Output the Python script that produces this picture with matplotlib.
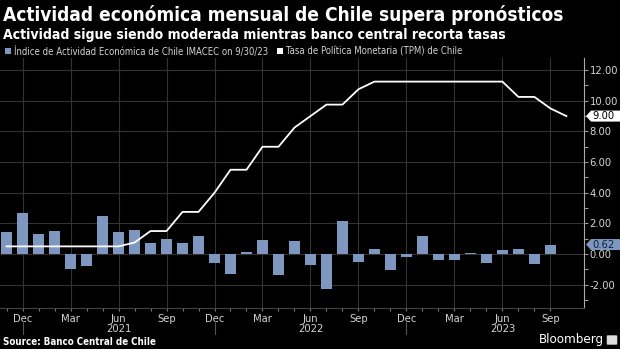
import matplotlib
matplotlib.use('Agg')
import matplotlib.pyplot as plt
from matplotlib.patches import Rectangle, Polygon, FancyBboxPatch
import numpy as np
import pandas as pd

# IMACEC mensual (var. % m/m), nov 2020 - sep 2023
months = pd.period_range('2020-11', '2023-09', freq='M')
imacec = [1.42, 2.69, 1.29, 1.49, -0.96, -0.78, 2.49, 1.42, 1.56, 0.71,
          0.98, 0.73, 1.16, -0.60, -1.27, 0.13, 0.93, -1.36, 0.87, -0.71,
          -2.31, 2.18, -0.53, 0.31, -1.02, -0.22, 1.16, -0.36, -0.36, 0.09,
          -0.56, 0.27, 0.33, -0.62, 0.62]
# TPM, nov 2020 - oct 2023
tpm = [0.5, 0.5, 0.5, 0.5, 0.5, 0.5, 0.5, 0.5, 0.75, 1.5,
       1.5, 2.75, 2.75, 4.0, 5.5, 5.5, 7.0, 7.0, 8.25, 9.0,
       9.75, 9.75, 10.75, 11.25, 11.25, 11.25, 11.25, 11.25, 11.25, 11.25,
       11.25, 11.25, 10.25, 10.25, 9.5, 9.0]
month_names = ['Jan', 'Feb', 'Mar', 'Apr', 'May', 'Jun',
               'Jul', 'Aug', 'Sep', 'Oct', 'Nov', 'Dec']
years = [2021, 2022, 2023]

BG = 'black'
BAR = '#7d97c1'
GRID = '#333333'
TXT = '#d4d4d4'
W, H = 620, 349

plt.rcParams['font.family'] = 'DejaVu Sans'
plt.rcParams['font.stretch'] = 'condensed'

fig = plt.figure(figsize=(6.2, 3.49), dpi=100, facecolor=BG)
ax = fig.add_axes([0, 1 - 308 / H, 584 / W, 250 / H])
ax.set_facecolor(BG)

x = np.arange(len(months))
ax.bar(x, imacec, width=0.72, color=BAR, zorder=2)
ax.plot(np.arange(len(tpm)), tpm, color='white', lw=1.3, zorder=3)

ax.set_xlim(-0.41, 36.1)
ax.set_ylim(-3.52, 12.79)

# eje y a la derecha
ax.yaxis.tick_right()
yt = np.arange(-2, 13, 2)
ax.set_yticks(yt)
ax.set_yticklabels([f'{v:.2f}' for v in yt])
ax.set_yticks(np.arange(-3, 13, 2), minor=True)
ax.tick_params(axis='y', which='both', direction='out', length=3, width=0.8,
               color='#999999', labelsize=8, labelcolor=TXT, pad=1)

# eje x: trimestres con etiqueta, meses como ticks menores
qi = [i for i, m in enumerate(months) if m.month in (3, 6, 9, 12)]
ax.set_xticks(qi)
ax.set_xticklabels([month_names[months[i].month - 1] for i in qi])
ax.set_xticks(x, minor=True)
ax.tick_params(axis='x', which='both', direction='out', length=2.5, width=0.8,
               color='#777777', labelsize=8, labelcolor=TXT, pad=2)

ax.grid(which='major', color=GRID, lw=0.8, zorder=0)
for s in ['left', 'top']:
    ax.spines[s].set_visible(False)
ax.spines['right'].set_color('#aaaaaa')
ax.spines['bottom'].set_color('#444444')

# años y separadores
xt = ax.get_xaxis_transform()
for yr in years:
    jun = [i for i, m in enumerate(months) if m.year == yr and m.month == 6][0]
    ax.text(jun, -0.082, str(yr), transform=xt, ha='center', va='center',
            color=TXT, fontsize=8)
for i, m in enumerate(months):
    if m.month == 12:
        ax.plot([i, i], [-0.05, -0.104], transform=xt, color='#555555',
                lw=0.8, clip_on=False)


def value_tag(v, face, tc, label):
    yp = ax.transData.transform((0, v))[1]
    h = 5.5
    pts = [(586, yp), (591, yp + h), (W, yp + h), (W, yp - h), (591, yp - h)]
    pts = [(px / W, py / H) for px, py in pts]
    fig.patches.append(Polygon(pts, closed=True, transform=fig.transFigure,
                               facecolor=face, edgecolor='none', zorder=5))
    fig.text(592 / W, yp / H, label, ha='left', va='center', color=tc,
             fontsize=8, zorder=6)


value_tag(tpm[-1], 'white', 'black', f'{tpm[-1]:.2f}')
value_tag(imacec[-1], BAR, '#10203a', f'{imacec[-1]:.2f}')

# titulos
fig.text(3 / W, 1 - 21 / H, 'Actividad económica mensual de Chile supera pronósticos',
         color='white', fontsize=13.7, fontweight='bold')
fig.text(3 / W, 1 - 39 / H, 'Actividad sigue siendo moderada mientras banco central recorta tasas',
         color='white', fontsize=10.1, fontweight='bold')

# leyenda
fig.patches.append(Rectangle((5 / W, 1 - 54 / H), 6 / W, 6 / H, transform=fig.transFigure,
                             facecolor=BAR, edgecolor='none'))
fig.text(14 / W, 1 - 55 / H, 'Índice de Actividad Económica de Chile IMACEC on 9/30/23',
         color=TXT, fontsize=6.85)
fig.patches.append(Rectangle((277 / W, 1 - 54 / H), 6 / W, 6 / H, transform=fig.transFigure,
                             facecolor='white', edgecolor='none'))
fig.text(286 / W, 1 - 55 / H, 'Tasa de Política Monetaria (TPM) de Chile',
         color=TXT, fontsize=6.85)

# pie
fig.text(3 / W, 1 - 345 / H, 'Source: Banco Central de Chile', color='white',
         fontsize=7, fontweight='bold')
fig.text(604 / W, 1 - 343 / H, 'Bloomberg', color='white', ha='right',
         fontsize=9.5)
fig.patches.append(FancyBboxPatch((608 / W, 1 - 344 / H), 8 / W, 8 / H,
                                  boxstyle='round,pad=0.002', transform=fig.transFigure,
                                  facecolor='#dddddd', edgecolor='none'))

fig.savefig('out.png', dpi=100, facecolor=BG)
